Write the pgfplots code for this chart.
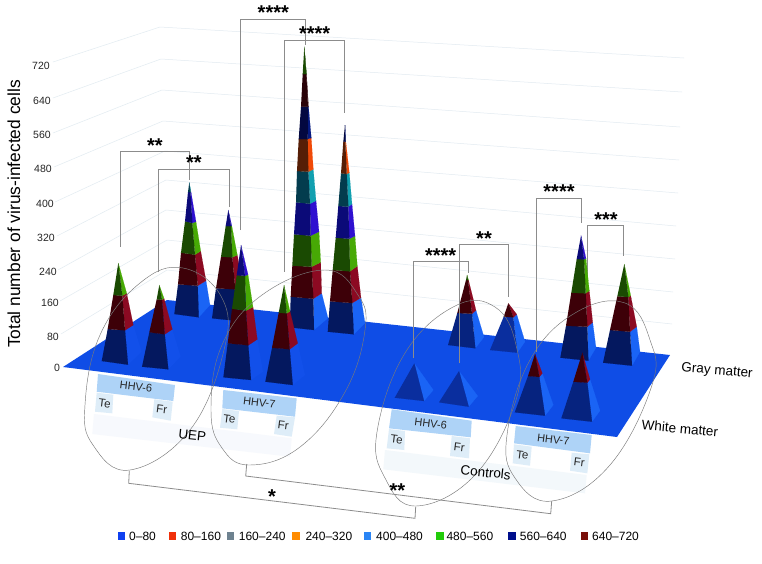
\documentclass[border=0pt]{standalone}
\usepackage{fontspec}
\setmainfont{Liberation Sans}
\usepackage{pgfplots}
\pgfplotsset{compat=1.18}

\definecolor{floorc}{HTML}{0F4DE6}
\definecolor{gridc}{HTML}{E2EBF1}
\definecolor{brk}{HTML}{8C8C8C}
\definecolor{ell}{HTML}{7A7A7A}
\definecolor{cellA}{HTML}{AED3F7}
\definecolor{cellB}{HTML}{DEEDF8}
\definecolor{paleA}{HTML}{F7F9FD}
\definecolor{paleB}{HTML}{F3F8FB}
\definecolor{navF}{HTML}{04185F}
\definecolor{navG}{HTML}{06237F}
\definecolor{navH}{HTML}{0A2E9E}
\definecolor{sideA}{HTML}{1250EA}
\definecolor{sideB}{HTML}{1A64F5}
\definecolor{redF}{HTML}{3D0008}
\definecolor{redS}{HTML}{8C0A22}
\definecolor{greenF}{HTML}{1A4A02}
\definecolor{greenS}{HTML}{47A905}
\definecolor{blueF}{HTML}{0B0A78}
\definecolor{blueS}{HTML}{2F10D0}
\definecolor{tealF}{HTML}{033C4E}
\definecolor{tealS}{HTML}{12A0B0}
\definecolor{orgF}{HTML}{561E06}
\definecolor{orgS}{HTML}{F04A08}
\definecolor{nvyF}{HTML}{030840}
\definecolor{nvyS}{HTML}{061A80}
\definecolor{marF}{HTML}{2A0208}
\definecolor{marS}{HTML}{3A0A10}
\definecolor{lgA}{HTML}{0F40F0}
\definecolor{lgB}{HTML}{F0300A}
\definecolor{lgC}{HTML}{6E8290}
\definecolor{lgD}{HTML}{FF8C00}
\definecolor{lgE}{HTML}{2A85F5}
\definecolor{lgF}{HTML}{22CC0A}
\definecolor{lgG}{HTML}{000F8C}
\definecolor{lgH}{HTML}{7A0F0A}

% one band of a pyramid: front, side, then lower L R S, upper L R S
\newcommand{\seg}[8]{%
  \addplot[fill=#2,draw=#2,line width=.1pt] coordinates {#4 #5 #8 #7};
  \addplot[fill=#1,draw=#1,line width=.1pt] coordinates {#3 #4 #7 #6};
}
% top band, ends in the apex
\newcommand{\tip}[6]{%
  \addplot[fill=#2,draw=#2,line width=.1pt] coordinates {#4 #5 #6};
  \addplot[fill=#1,draw=#1,line width=.1pt] coordinates {#3 #4 #6};
}
\newcommand{\poly}[2]{\addplot[fill=#1,draw=none] coordinates {#2};}
\newcommand{\sigbr}[1]{\addplot[brk,line width=.8pt] coordinates {#1};}
\newcommand{\egg}[1]{\addplot[ell,line width=.45pt,smooth cycle,tension=0.7] coordinates {#1};}
\newcommand{\stars}[3]{\node[anchor=north,inner sep=0pt,font=\fontsize{20}{20}\selectfont\bfseries] at (axis cs:#1,#2) {#3};}
\newcommand{\ytl}[3]{\node[font=\fontsize{10.5}{12}\selectfont,text=black!85] at (axis cs:#1,#2) {#3};}
\newcommand{\tcell}[4]{\node[font=\fontsize{#4}{12}\selectfont,rotate=-7,text=black!85] at (axis cs:#1,#2) {#3};}
\newcommand{\lgtxt}[2]{\node[anchor=west,inner sep=0pt,font=\fontsize{12}{14}\selectfont] at (axis cs:#1,536) {#2};}

\begin{document}
\begin{tikzpicture}
\begin{axis}[
  scale only axis, width=762pt, height=563pt,
  xmin=0, xmax=762, ymin=0, ymax=563, y dir=reverse,
  axis lines=none, clip=false,
]
\addplot[fill=white,draw=none] coordinates {(0,0)(762,0)(762,563)(0,563)};

% back wall lines, 720 down to 80
\addplot[gridc,line width=.5pt] coordinates {(53,62)(160,27)(684,58)};
\addplot[gridc,line width=.5pt] coordinates {(53,98)(161,59)(682,92)};
\addplot[gridc,line width=.5pt] coordinates {(53,133)(162,90)(680,127)};
\addplot[gridc,line width=.5pt] coordinates {(54,167)(163,121)(679,160)};
\addplot[gridc,line width=.5pt] coordinates {(55,202)(165,151)(678,193)};
\addplot[gridc,line width=.5pt] coordinates {(57,236)(166,180)(676,226)};
\addplot[gridc,line width=.5pt] coordinates {(58,270)(166,210)(675,259)};
\addplot[gridc,line width=.5pt] coordinates {(60,301)(167,240)(673,292)};
\addplot[gridc,line width=.5pt] coordinates {(61,334)(167,270)(672,324)};

\ytl{41}{66}{720}\ytl{42}{101}{640}\ytl{42}{135}{560}\ytl{43}{169}{480}\ytl{45}{204}{400}
\ytl{46}{238}{320}\ytl{48}{272}{240}\ytl{50}{303}{160}\ytl{53}{337}{80}\ytl{57}{368}{0}
\node[rotate=90,font=\fontsize{17.4}{19}\selectfont] at (axis cs:14,214) {Total number of virus-infected cells};

% floor
\poly{floorc}{(63,367)(167,300)(670,355)(617,437)}

% tables under the floor
\poly{paleA}{(94,414)(291.7,438.3)(290,456.7)(92.3,434)}
\poly{paleB}{(385,450)(586.7,475)(585,493.3)(383.3,469.3)}
\poly{cellA}{(98,374)(175,385)(173.3,401)(96.7,391.7)}
\poly{cellB}{(96.7,392.7)(113.3,394.7)(112.3,413.3)(95,411.7)}
\poly{cellB}{(154.3,399.3)(172.7,401.7)(170.7,420.7)(152.3,417.3)}
\poly{cellA}{(223.3,390)(296.7,398.3)(295,416.7)(222.3,408.3)}
\poly{cellB}{(222.3,409)(239,411)(237.3,429.3)(220,427.7)}
\poly{cellB}{(276.7,415.7)(295,417.3)(291.7,436.7)(274,434)}
\poly{cellA}{(391.7,409.3)(471.7,420.7)(470.7,437.3)(389,428.3)}
\poly{cellB}{(389,429)(405,431)(404.3,450)(386.7,448.3)}
\poly{cellB}{(451.7,436)(470,438.3)(469,458.3)(450,456)}
\poly{cellA}{(515.7,426)(591.7,435)(590,453.3)(514,443.3)}
\poly{cellB}{(514,444.3)(531.7,446.7)(530,465.7)(512.7,463.3)}
\poly{cellB}{(571.7,452.7)(589.3,454.3)(587.3,473.3)(570,470.7)}
\tcell{136}{386.7}{HHV-6}{11}\tcell{104.7}{403.3}{Te}{11.5}\tcell{161.7}{409.3}{Fr}{11.5}
\tcell{259.3}{402.3}{HHV-7}{11}\tcell{229.3}{419}{Te}{11.5}\tcell{283.3}{425}{Fr}{11.5}
\tcell{430.7}{424}{HHV-6}{11}\tcell{396.7}{439.3}{Te}{11.5}\tcell{459.3}{447.3}{Fr}{11.5}
\tcell{553.3}{439.3}{HHV-7}{11}\tcell{522.3}{455}{Te}{11.5}\tcell{579.3}{462.7}{Fr}{11.5}

% bracket that runs behind the pyramid
\sigbr{(587.3,290.7)(587.3,225.3)(623.7,225.3)(623.7,256)}

% gray matter row
% UEP HHV-6 Te
\seg{navF}{sideB}{(174.3,314)}{(198.7,317.3)}{(210,305)}{(178,284.3)}{(197.7,285.7)}{(206,280.7)}
\seg{redF}{redS}{(178,284.3)}{(197.7,285.7)}{(206,280.7)}{(181,252.7)}{(195,254.7)}{(200.7,251)}
\seg{greenF}{greenS}{(181,252.7)}{(195,254.7)}{(200.7,251)}{(185,221.3)}{(192.3,223)}{(196,221.7)}
\seg{blueF}{blueS}{(185,221.3)}{(192.3,223)}{(196,221.7)}{(188,192)}{(190.5,192)}{(191,192)}
\tip{tealF}{tealS}{(188,192)}{(190.5,192)}{(191,192)}{(189.3,182.3)}
% UEP HHV-6 Fr
\seg{navF}{sideB}{(212,318.3)}{(238,321)}{(250,310)}{(216,288.3)}{(235.3,289.3)}{(243,286)}
\seg{redF}{redS}{(216,288.3)}{(235.3,289.3)}{(243,286)}{(221,256.7)}{(232.3,257.3)}{(237.3,255)}
\seg{greenF}{greenS}{(221,256.7)}{(232.3,257.3)}{(237.3,255)}{(225.7,226)}{(231,226)}{(231.7,225.3)}
\tip{blueF}{blueS}{(225.7,226)}{(231,226)}{(231.7,225.3)}{(228.3,210)}
% UEP HHV-7 Te
\seg{navF}{sideB}{(289.7,327.3)}{(314,330)}{(328,318)}{(290.7,296.7)}{(313.3,298.7)}{(321.7,293.3)}
\seg{redF}{redS}{(290.7,296.7)}{(313.3,298.7)}{(321.7,293.3)}{(292.3,265.7)}{(311.7,266.7)}{(320.7,262.3)}
\seg{greenF}{greenS}{(292.3,265.7)}{(311.7,266.7)}{(320.7,262.3)}{(294,234.3)}{(310.7,235.7)}{(319,231.7)}
\seg{blueF}{blueS}{(294,234.3)}{(310.7,235.7)}{(319,231.7)}{(296,202.3)}{(310,203.7)}{(316,200.7)}
\seg{tealF}{tealS}{(296,202.3)}{(310,203.7)}{(316,200.7)}{(297,171)}{(308.3,171.7)}{(313.3,169.3)}
\seg{orgF}{orgS}{(297,171)}{(308.3,171.7)}{(313.3,169.3)}{(298.7,139)}{(307.7,139)}{(311.3,138)}
\seg{nvyF}{nvyS}{(298.7,139)}{(307.7,139)}{(311.3,138)}{(301,106.7)}{(308,106.7)}{(308.5,106.5)}
\seg{marF}{marS}{(301,106.7)}{(308,106.7)}{(308.5,106.5)}{(302.7,74)}{(306.3,74)}{(306.5,74)}
\tip{greenF}{greenF}{(302.7,74)}{(306.3,74)}{(306.5,74)}{(304.3,46.7)}
% UEP HHV-7 Fr
\seg{navF}{sideB}{(327.7,331.7)}{(353.7,334.3)}{(365,323)}{(330,301.3)}{(352.3,303)}{(361,297.7)}
\seg{redF}{redS}{(330,301.3)}{(352.3,303)}{(361,297.7)}{(332.7,270)}{(350,271.3)}{(357.3,266)}
\seg{greenF}{greenS}{(332.7,270)}{(350,271.3)}{(357.3,266)}{(335.7,237.7)}{(349.3,238.7)}{(355,236)}
\seg{blueF}{blueS}{(335.7,237.7)}{(349.3,238.7)}{(355,236)}{(338.3,206)}{(348.3,206.7)}{(352,204)}
\seg{tealF}{tealS}{(338.3,206)}{(348.3,206.7)}{(352,204)}{(341,173.3)}{(346.7,174)}{(349.3,172.7)}
\seg{orgF}{orgS}{(341,173.3)}{(346.7,174)}{(349.3,172.7)}{(343.3,141.7)}{(345.3,141.7)}{(345.8,141.5)}
\tip{nvyF}{nvyS}{(343.3,141.7)}{(345.3,141.7)}{(345.8,141.5)}{(345,125)}
% Controls HHV-6 Te
\seg{navG}{sideB}{(448,345)}{(475.3,348.3)}{(484,337)}{(457.3,313)}{(472,313.7)}{(476,310.3)}
\seg{redF}{redS}{(457.3,313)}{(472,313.7)}{(476,310.3)}{(466,280)}{(468,280)}{(468.5,280)}
\tip{greenF}{greenS}{(466,280)}{(468,280)}{(468.5,280)}{(467,275)}
% Controls HHV-6 Fr
\seg{navH}{sideB}{(490,350)}{(517.3,352.7)}{(525,341.7)}{(503.7,316.7)}{(513.3,317.3)}{(516.7,314.3)}
\tip{redF}{redS}{(503.7,316.7)}{(513.3,317.3)}{(516.7,314.3)}{(508.3,303.3)}
% Controls HHV-7 Te
\seg{navF}{sideB}{(560.3,357.7)}{(588.3,360.7)}{(596,347.7)}{(566,325.7)}{(587.3,326.7)}{(592.7,322.3)}
\seg{redF}{redS}{(566,325.7)}{(587.3,326.7)}{(592.7,322.3)}{(571.3,292.7)}{(585.7,293.3)}{(589.3,290.7)}
\seg{greenF}{greenS}{(571.3,292.7)}{(585.7,293.3)}{(589.3,290.7)}{(576.7,259)}{(584,259.3)}{(586,258.3)}
\tip{blueF}{blueS}{(576.7,259)}{(584,259.3)}{(586,258.3)}{(581,235.7)}
% Controls HHV-7 Fr
\seg{navF}{sideB}{(603,362.7)}{(632,365.7)}{(640,351.7)}{(610,330)}{(630,331.7)}{(636.7,326.7)}
\seg{redF}{redS}{(610,330)}{(630,331.7)}{(636.7,326.7)}{(617.3,296.3)}{(628.3,297)}{(630.7,295.7)}
\tip{greenF}{greenS}{(617.3,296.3)}{(628.3,297)}{(630.7,295.7)}{(624.3,264)}

% white matter row
% UEP HHV-6 Te
\seg{navF}{sideA}{(101.7,361)}{(128,364.7)}{(141.7,351.7)}{(107.7,329)}{(125,330.3)}{(133.3,325)}
\seg{redF}{redS}{(107.7,329)}{(125,330.3)}{(133.3,325)}{(113.3,295)}{(122.3,295.7)}{(126.7,293.3)}
\tip{greenF}{greenS}{(113.3,295)}{(122.3,295.7)}{(126.7,293.3)}{(118.3,263)}
% UEP HHV-6 Fr
\seg{navF}{sideA}{(142,366.7)}{(168.3,369.3)}{(180.7,356.7)}{(149.3,332.3)}{(164.7,334.3)}{(172.3,329.3)}
\seg{redF}{redS}{(149.3,332.3)}{(164.7,334.3)}{(172.3,329.3)}{(156.7,299.3)}{(162,299.7)}{(164,298.3)}
\tip{greenF}{greenS}{(156.7,299.3)}{(162,299.7)}{(164,298.3)}{(159.3,285)}
% UEP HHV-7 Te
\seg{navF}{sideA}{(223.3,377.3)}{(251,380)}{(263,371.7)}{(227.7,343.3)}{(248.3,345.3)}{(257.3,339.3)}
\seg{redF}{redS}{(227.7,343.3)}{(248.3,345.3)}{(257.3,339.3)}{(232,308.7)}{(246,310.7)}{(253,307)}
\seg{greenF}{greenS}{(232,308.7)}{(246,310.7)}{(253,307)}{(236.7,275.3)}{(245,275.8)}{(248,274.5)}
\tip{blueF}{blueS}{(236.7,275.3)}{(245,275.8)}{(248,274.5)}{(241,245)}
% UEP HHV-7 Fr
\seg{navF}{sideA}{(265.3,381.7)}{(292.7,385)}{(305,375)}{(272,347.7)}{(289.7,349.3)}{(297.7,343.3)}
\seg{redF}{redS}{(272,347.7)}{(289.7,349.3)}{(297.7,343.3)}{(278.7,312.7)}{(286.7,313.3)}{(290,311.3)}
\tip{greenF}{greenS}{(278.7,312.7)}{(286.7,313.3)}{(290,311.3)}{(284,285)}
% Controls HHV-6 Te, Fr
\tip{navH}{sideB}{(394.7,397.7)}{(424,401)}{(433.3,390)}{(414.3,363.3)}
\tip{navH}{sideB}{(439,402.3)}{(468.7,406.7)}{(477.7,396)}{(459,371)}
% Controls HHV-7 Te
\seg{navG}{sideB}{(514.7,412.3)}{(545,415.7)}{(553.3,405)}{(528,376)}{(539.3,377)}{(542.3,373.3)}
\tip{redF}{redS}{(528,376)}{(539.3,377)}{(542.3,373.3)}{(535,354)}
% Controls HHV-7 Fr
\seg{navG}{sideB}{(561.3,418.3)}{(592,421.7)}{(600,410.7)}{(573.3,381.7)}{(587.3,382.7)}{(590,379.3)}
\tip{redF}{redS}{(573.3,381.7)}{(587.3,382.7)}{(590,379.3)}{(582.3,352.7)}

% ovals
\egg{(130,470)(93,445)(85,405)(100,335)(140,283)(183,268)(222,298)(224,350)(190,430)}
\egg{(250,465)(222,448)(211,410)(222,345)(262,295)(325,270)(358,295)(365,330)(345,392)(300,447)}
\egg{(416,506)(385,478)(377,432)(405,353)(455,306)(495,307)(516,345)(516,400)(475,475)}
\egg{(552,501)(515,478)(507,435)(530,360)(575,313)(625,303)(650,340)(652,385)(610,465)}

% significance brackets
\sigbr{(120.3,246.7)(120.3,151.7)(189.3,151.7)(189.3,180)}
\sigbr{(158.3,271.7)(158.3,169.3)(229.3,169.3)(229.3,206.7)}
\sigbr{(240.7,230)(240.7,19.3)(305.3,19.3)(305.3,45)}
\sigbr{(284.3,271.7)(284.3,40)(344.3,40)(344.3,113)}
\sigbr{(413.3,358.3)(413.3,261)(468.3,261)(468.3,273.3)}
\sigbr{(459.3,363.3)(459.3,244.3)(508.3,244.3)(508.3,296.7)}
\sigbr{(536.3,351.7)(536.3,198.3)(581.7,198.3)(581.7,223.3)}
\sigbr{(129.3,471)(128.7,483.3)(415,518.3)(415.7,506.7)}
\sigbr{(246.7,464)(245.7,476)(550.7,513.7)(551.7,501)}

\stars{155}{139}{**}
\stars{194}{156}{**}
\stars{273.3}{6}{****}
\stars{314.7}{27}{****}
\stars{440.7}{249}{****}
\stars{484}{232}{**}
\stars{559}{185}{****}
\stars{606}{213}{***}
\stars{272}{490}{*}
\stars{397.3}{484}{**}

\node[font=\fontsize{13.5}{15}\selectfont,rotate=-6] at (axis cs:192.3,435) {UEP};
\node[font=\fontsize{13.5}{15}\selectfont,rotate=-6] at (axis cs:485.7,472.3) {Controls};
\node[font=\fontsize{13.5}{15}\selectfont,rotate=-5] at (axis cs:680,428.3) {White matter};
\node[font=\fontsize{13.5}{15}\selectfont,rotate=-5] at (axis cs:717,371) {Gray matter};

% legend
\poly{lgA}{(117.5,532)(125,532)(125,539.5)(117.5,539.5)}
\poly{lgB}{(168.5,532)(176,532)(176,539.5)(168.5,539.5)}
\poly{lgC}{(226.5,532)(234,532)(234,539.5)(226.5,539.5)}
\poly{lgD}{(292,532)(299.5,532)(299.5,539.5)(292,539.5)}
\poly{lgE}{(363.5,532)(371,532)(371,539.5)(363.5,539.5)}
\poly{lgF}{(436,532)(443.5,532)(443.5,539.5)(436,539.5)}
\poly{lgG}{(508,532)(515.5,532)(515.5,539.5)(508,539.5)}
\poly{lgH}{(580.5,532)(588,532)(588,539.5)(580.5,539.5)}
\lgtxt{129}{0–80}
\lgtxt{180.7}{80–160}
\lgtxt{238.7}{160–240}
\lgtxt{305.3}{240–320}
\lgtxt{376}{400–480}
\lgtxt{446.3}{480–560}
\lgtxt{519.7}{560–640}
\lgtxt{592}{640–720}
\end{axis}
\end{tikzpicture}
\end{document}
